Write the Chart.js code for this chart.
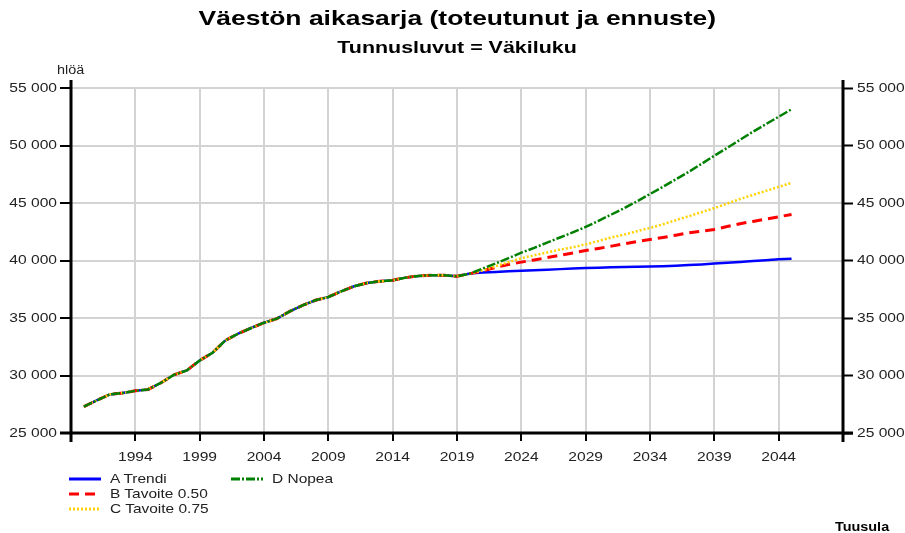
<!DOCTYPE html>
<html>
<head>
<meta charset="utf-8">
<script src="https://cdn.jsdelivr.net/npm/chart.js@4"></script>
<style>
  body { margin: 0; background: #fff; font-family: Arial, "Liberation Sans", sans-serif; }
  #wrap { position: relative; width: 905px; height: 533px; }
  #chart { position: absolute; left: 0; top: 0; }
  .row { position: absolute; left: 0; width: 914px; text-align: center; }
  .txt { display: inline-block; white-space: nowrap; color: #000; }
  .title { top: 6px; }
  .title .txt { font-weight: bold; font-size: 21px; transform: scaleX(1.26); }
  .subtitle { top: 38px; }
  .subtitle .txt { font-weight: bold; font-size: 17px; transform: scaleX(1.26); }
  .abs { position: absolute; transform-origin: left center; white-space: nowrap; }
  .unit { font-size: 12px; left: 57px; top: 63px; color: #222; transform: scaleX(1.2); }
  .source { font-weight: bold; font-size: 12px; left: 835px; top: 520px; transform: scaleX(1.2); }
  .legend { position: absolute; font-size: 13px; color: #222; display: flex; align-items: center; }
  .legend svg { margin-right: 9px; }
  .legend span { display: inline-block; transform: scaleX(1.19); transform-origin: left center; }
</style>
</head>
<body>
<div id="wrap">
  <canvas id="chart" width="905" height="533"></canvas>
  <div class="row title"><span class="txt">Väestön aikasarja (toteutunut ja ennuste)</span></div>
  <div class="row subtitle"><span class="txt">Tunnusluvut = Väkiluku</span></div>
  <div class="abs unit">hlöä</div>
  <div class="abs source">Tuusula</div>
  <div id="legend"></div>
</div>
<script>
// Years 1990-2045
const years = []
for (let y = 1990; y <= 2045; y++) years.push(y)

// Toteutunut 1990-2019
const history = [27300, 27830, 28350, 28470, 28670, 28790, 29370, 30060, 30440, 31310,
  31980, 33050, 33640, 34130, 34590, 34940, 35580, 36100, 36540, 36830,
  37320, 37760, 38050, 38190, 38280, 38510, 38660, 38720, 38720, 38630]

// Ennusteet 2020-2045
const trendA = [38860, 38950, 39010, 39060, 39110, 39150, 39200, 39250, 39300, 39340,
  39380, 39410, 39440, 39460, 39480, 39510, 39550, 39600, 39660, 39740,
  39800, 39870, 39950, 40030, 40100, 40150]
const tavoiteB = [38860, 39100, 39400, 39650, 39860, 40050, 40250, 40450, 40650, 40870,
  41050, 41250, 41450, 41650, 41820, 42000, 42200, 42400, 42550, 42700,
  42950, 43200, 43400, 43600, 43800, 44000]
const tavoiteC = [38860, 39150, 39500, 39850, 40200, 40450, 40700, 40950, 41150, 41400,
  41700, 42000, 42250, 42550, 42830, 43150, 43500, 43850, 44200, 44550,
  44950, 45350, 45700, 46050, 46400, 46750]
const nopeaD = [38860, 39300, 39750, 40200, 40680, 41100, 41550, 42000, 42450, 42920,
  43450, 44000, 44550, 45150, 45780, 46400, 47050, 47700, 48400, 49110,
  49800, 50500, 51200, 51850, 52500, 53150]

// Tick labels
const xTicks = [1994, 1999, 2004, 2009, 2014, 2019, 2024, 2029, 2034, 2039, 2044]
const yTicks = [25000, 30000, 35000, 40000, 45000, 50000, 55000]

const series = [
  { label: "A Trendi", data: trendA, color: "#0000ff", dash: [], width: 2.5, order: 3 },
  { label: "B Tavoite 0.50", data: tavoiteB, color: "#ff0000", dash: [10, 6], width: 3, order: 2 },
  { label: "C Tavoite 0.75", data: tavoiteC, color: "#ffd200", dash: [2, 2], width: 2.5, order: 1 },
  { label: "D Nopea", data: nopeaD, color: "#008000", dash: [9, 2, 2, 2], width: 2.5, order: 0 },
]

const fmt = (v) => String(v).replace(/\B(?=(\d{3})+(?!\d))/g, " ")

// The reference text is a little wider than plain Arial
const STRETCH = 1.2
function wideText(ctx, text, x, y, align) {
  ctx.save()
  ctx.translate(x, y)
  ctx.scale(STRETCH, 1)
  ctx.textAlign = align
  ctx.fillText(text, 0, 0)
  ctx.restore()
}

// Thick black axis lines reaching past the plot area, and the tick labels
const axisLines = {
  id: "axisLines",
  afterDraw(chart) {
    const { ctx, chartArea, scales } = chart
    const { left, right, top, bottom } = chartArea
    ctx.save()
    ctx.strokeStyle = "#000"
    ctx.lineWidth = 3
    ctx.beginPath()
    ctx.moveTo(left, top - 8)
    ctx.lineTo(left, bottom + 9)
    ctx.moveTo(right, top - 8)
    ctx.lineTo(right, bottom + 9)
    ctx.moveTo(left - 11, bottom)
    ctx.lineTo(right + 10, bottom)
    ctx.stroke()

    ctx.fillStyle = "#222"
    ctx.font = "13px Arial, 'Liberation Sans', sans-serif"
    ctx.textBaseline = "middle"
    yTicks.forEach((v) => {
      const py = scales.y.getPixelForValue(v)
      wideText(ctx, fmt(v), left - 14, py, "right")
      wideText(ctx, fmt(v), right + 14, py, "left")
    })
    xTicks.forEach((v) => {
      wideText(ctx, String(v), scales.x.getPixelForValue(v), bottom + 24, "center")
    })
    ctx.restore()
  },
}

new Chart(document.getElementById("chart"), {
  type: "line",
  data: {
    datasets: series.map((s) => ({
      label: s.label,
      data: years.map((y, i) => ({ x: y, y: i < history.length ? history[i] : s.data[i - history.length] })),
      borderColor: s.color,
      borderDash: s.dash,
      borderWidth: s.width,
      pointRadius: 0,
      tension: 0,
      fill: false,
      order: s.order,
    })),
  },
  options: {
    responsive: false,
    animation: false,
    devicePixelRatio: 1,
    layout: { padding: { top: 88, left: 0, right: 0, bottom: 0 } },
    plugins: {
      legend: { display: false },
      tooltip: { enabled: false },
      title: { display: false },
    },
    scales: {
      x: {
        type: "linear",
        min: 1989,
        max: 2049,
        afterBuildTicks: (scale) => { scale.ticks = xTicks.map((v) => ({ value: v })) },
        afterFit: (scale) => { scale.height = 100 },
        border: { display: false },
        grid: { color: "#d3d3d3", lineWidth: 2, tickColor: "#000", tickLength: 8, tickWidth: 2 },
        ticks: { display: false },
      },
      y: {
        position: "left",
        min: 25000,
        max: 55000,
        afterBuildTicks: (scale) => { scale.ticks = yTicks.map((v) => ({ value: v })) },
        afterFit: (scale) => { scale.width = 71 },
        border: { display: false },
        grid: { color: "#d3d3d3", lineWidth: 2, tickColor: "#000", tickLength: 11, tickWidth: 2 },
        ticks: { display: false },
      },
      y2: {
        position: "right",
        min: 25000,
        max: 55000,
        afterBuildTicks: (scale) => { scale.ticks = yTicks.map((v) => ({ value: v })) },
        afterFit: (scale) => { scale.width = 62 },
        border: { display: false },
        grid: { drawOnChartArea: false, tickColor: "#000", tickLength: 10, tickWidth: 2 },
        ticks: { display: false },
      },
    },
  },
  plugins: [axisLines],
})

// HTML legend: A, B, C in first column, D in second
const legendPos = [
  { left: 69, top: 471 },
  { left: 69, top: 486 },
  { left: 69, top: 501 },
  { left: 231, top: 471 },
]
const legendEl = document.getElementById("legend")
series.forEach((s, i) => {
  const item = document.createElement("div")
  item.className = "legend"
  item.style.left = legendPos[i].left + "px"
  item.style.top = legendPos[i].top + "px"
  item.innerHTML =
    '<svg width="32" height="6"><line x1="0" y1="3" x2="32" y2="3" stroke="' + s.color +
    '" stroke-width="3" stroke-dasharray="' + (s.dash.length ? s.dash.join(",") : "none") + '"/></svg>' +
    "<span>" + s.label + "</span>"
  legendEl.appendChild(item)
})
</script>
</body>
</html>
